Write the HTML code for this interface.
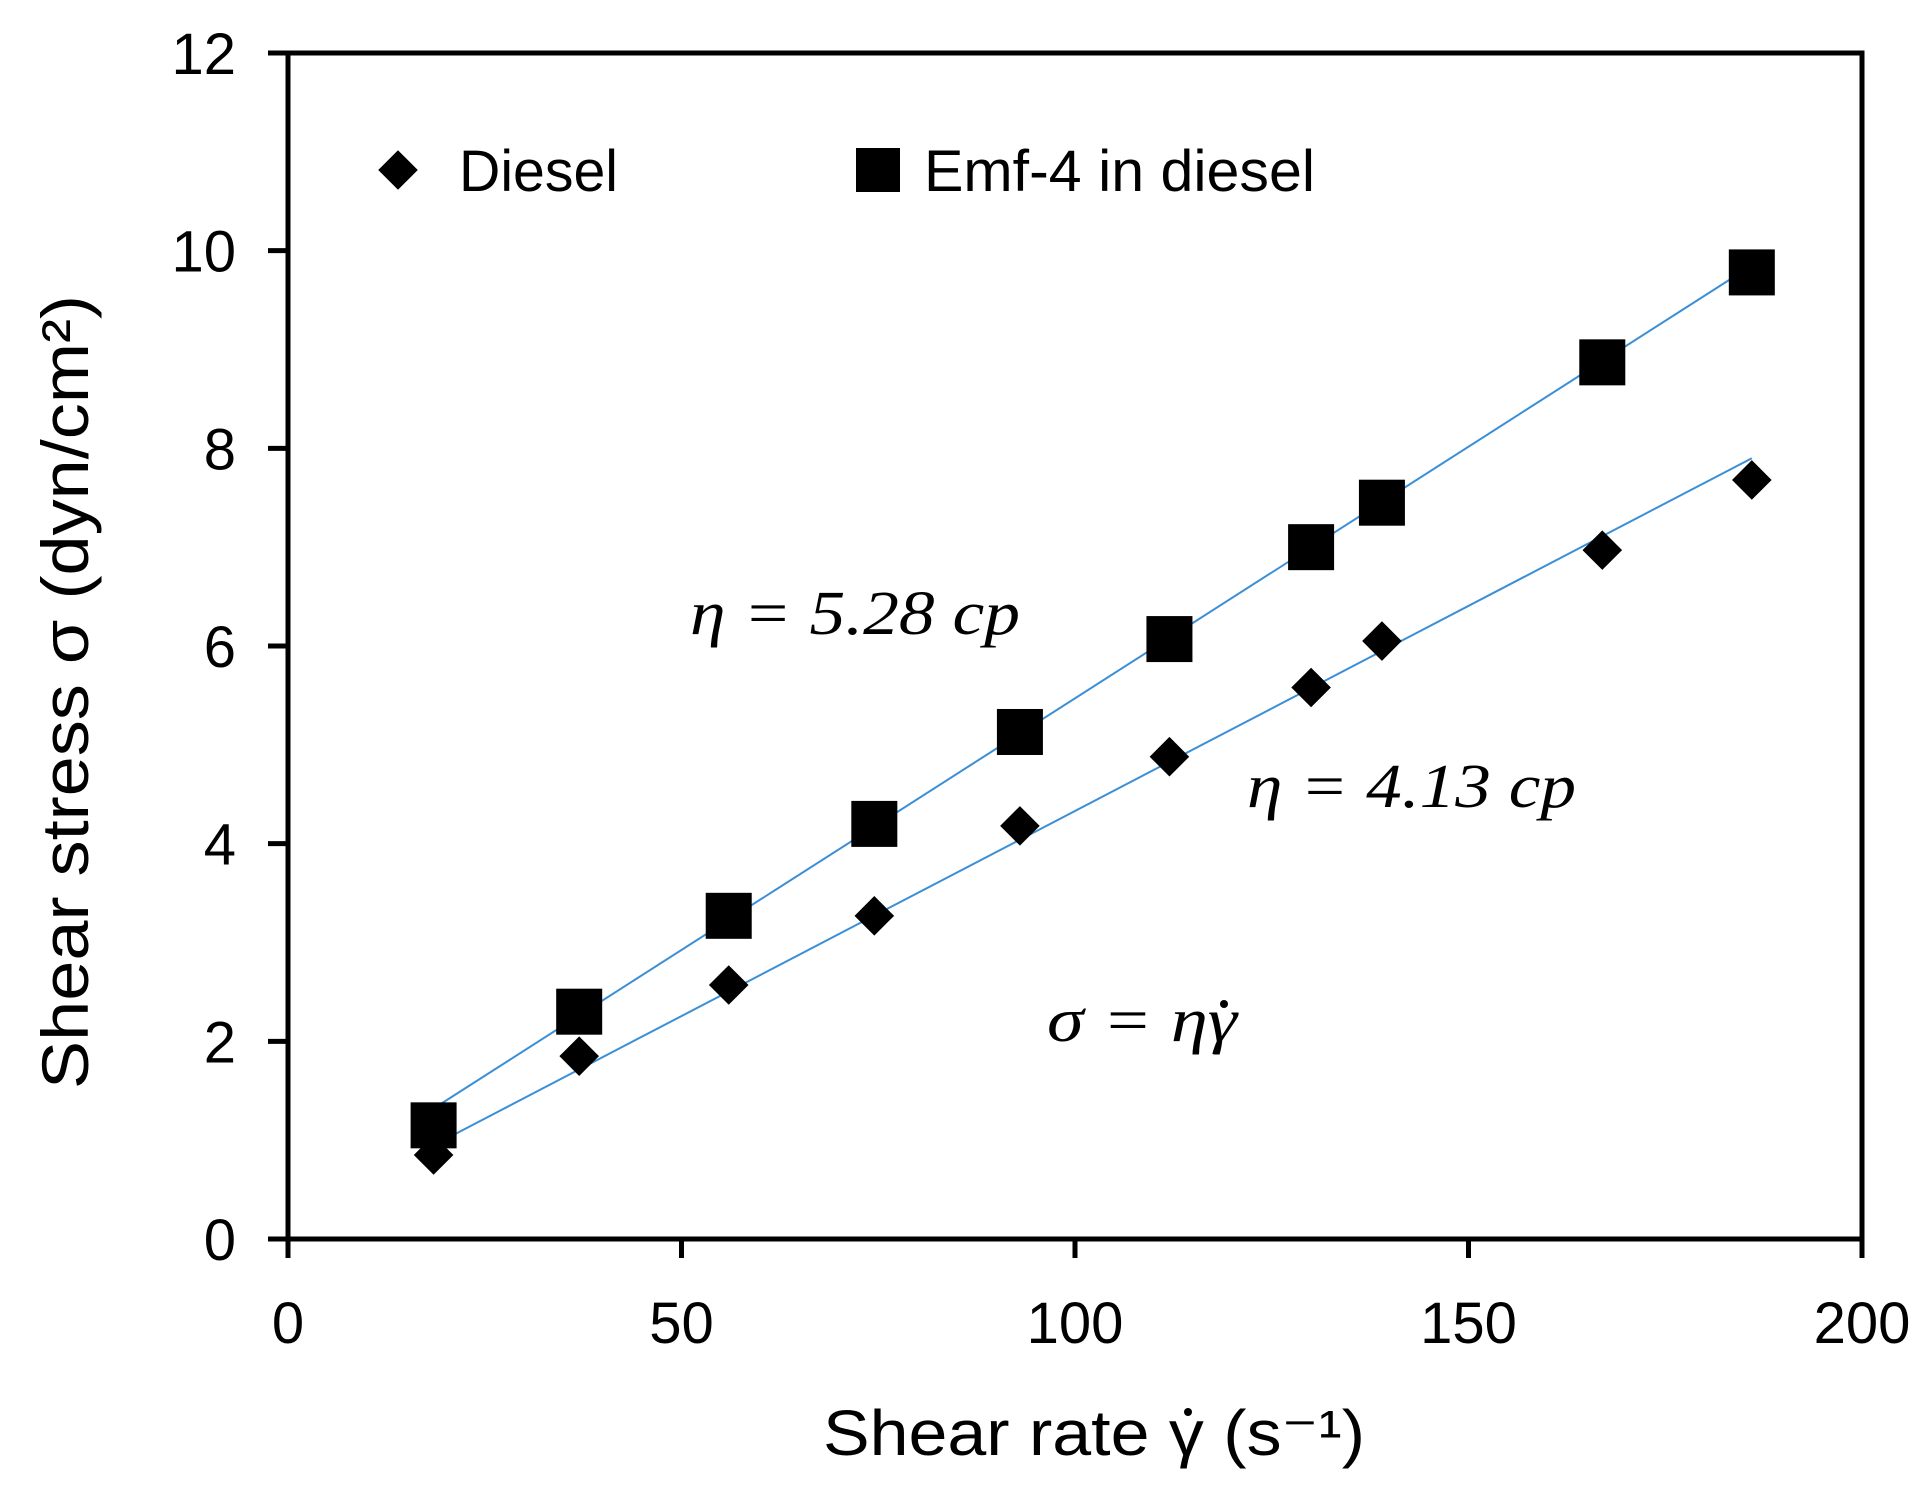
<!DOCTYPE html>
<html><head><meta charset="utf-8"><style>
html,body{margin:0;padding:0;background:#fff;}
svg{display:block;}
</style></head><body>
<svg id="chart" width="1931" height="1491" viewBox="0 0 1931 1491" xmlns="http://www.w3.org/2000/svg">
<g id="axes"></g>
<g id="fits"></g>
<g id="marks"></g>
<g>
  <rect x="384" y="156" width="28" height="28" transform="rotate(45 398 170)" fill="#000"/>
  <text x="459" y="191" font-family="Liberation Sans, sans-serif" font-size="58" textLength="159" lengthAdjust="spacingAndGlyphs">Diesel</text>
  <rect x="856" y="148" width="44" height="44" fill="#000"/>
  <text x="924" y="191" font-family="Liberation Sans, sans-serif" font-size="58" textLength="391" lengthAdjust="spacingAndGlyphs">Emf-4 in diesel</text>
</g>
<text x="690" y="634" font-family="Liberation Serif, serif" font-style="italic" font-size="62" textLength="330" lengthAdjust="spacingAndGlyphs">η = 5.28 cp</text>
<text x="1247" y="807" font-family="Liberation Serif, serif" font-style="italic" font-size="62" textLength="329" lengthAdjust="spacingAndGlyphs">η = 4.13 cp</text>
<text x="1047" y="1041" font-family="Liberation Serif, serif" font-style="italic" font-size="62" textLength="190" lengthAdjust="spacingAndGlyphs">σ = ηγ</text>
<circle cx="1224" cy="1004" r="4" fill="#000"/>
<text x="823" y="1455" font-family="Liberation Sans, sans-serif" font-size="64" textLength="542" lengthAdjust="spacingAndGlyphs">Shear rate γ (s⁻¹)</text>
<circle cx="1188" cy="1412" r="4" fill="#000"/>
<text transform="translate(88 692) rotate(-90)" text-anchor="middle" font-family="Liberation Sans, sans-serif" font-size="66" textLength="794" lengthAdjust="spacingAndGlyphs">Shear stress σ (dyn/cm²)</text>
</svg>
<script>
const xTicks = [0, 50, 100, 150, 200];
const yTicks = [0, 2, 4, 6, 8, 10, 12];
const shearRate = [18.5, 37, 56, 74.5, 93, 112, 130, 139, 167, 186];
const dieselStress = [0.85, 1.85, 2.57, 3.27, 4.18, 4.88, 5.58, 6.05, 6.97, 7.68];
const emfStress = [1.15, 2.3, 3.27, 4.2, 5.13, 6.07, 7.0, 7.45, 8.87, 9.78];
const fitX = [18.3, 186];
const dieselFit = [0.94, 7.9];
const emfFit = [1.31, 9.85];

const NS = 'http://www.w3.org/2000/svg';
const X0 = 288, X1 = 1862, Y0 = 1239, Y1 = 53;
const xs = v => X0 + (v - 0) / 200 * (X1 - X0);
const ys = v => Y0 - (v - 0) / 12 * (Y0 - Y1);
function mk(tag, attrs, parent) {
  const e = document.createElementNS(NS, tag);
  for (const k in attrs) e.setAttribute(k, attrs[k]);
  parent.appendChild(e);
  return e;
}
const axes = document.getElementById('axes');
const frame = mk('rect', {x: X0, y: Y1, width: X1 - X0, height: Y0 - Y1, fill: 'none', stroke: '#000', 'stroke-width': 5}, axes);


xTicks.forEach(t => {
  const l = mk('line', {x1: xs(t), x2: xs(t), y1: Y0, y2: Y0 + 19, stroke: '#000', 'stroke-width': 5}, axes);
  
  
  const tx = mk('text', {x: xs(t), y: 1343, 'text-anchor': 'middle', 'font-family': 'Liberation Sans, sans-serif', 'font-size': 58}, axes);
  tx.textContent = t;
  
  
});
yTicks.forEach(t => {
  const l = mk('line', {x1: X0 - 20, x2: X0, y1: ys(t), y2: ys(t), stroke: '#000', 'stroke-width': 5}, axes);
  
  
  const tx = mk('text', {x: 236, y: ys(t) + 21, 'text-anchor': 'end', 'font-family': 'Liberation Sans, sans-serif', 'font-size': 58}, axes);
  tx.textContent = t;
  
  
});
const fits = document.getElementById('fits');
const f1 = mk('line', {x1: xs(fitX[0]), y1: ys(emfFit[0]), x2: xs(fitX[1]), y2: ys(emfFit[1]), stroke: '#3b8fd6', 'stroke-width': 2}, fits);


const f2 = mk('line', {x1: xs(fitX[0]), y1: ys(dieselFit[0]), x2: xs(fitX[1]), y2: ys(dieselFit[1]), stroke: '#3b8fd6', 'stroke-width': 2}, fits);


const marks = document.getElementById('marks');
shearRate.forEach((x, i) => {
  const cx = xs(x), cy = ys(emfStress[i]);
  const s = mk('rect', {x: cx - 23, y: cy - 23, width: 46, height: 46, fill: '#000'}, marks);
  
  
});
shearRate.forEach((x, i) => {
  const cx = xs(x), cy = ys(dieselStress[i]);
  const d = mk('rect', {x: cx - 14, y: cy - 14, width: 28, height: 28, fill: '#000', transform: `rotate(45 ${cx} ${cy})`}, marks);
  
  
});
</script>
</body></html>
